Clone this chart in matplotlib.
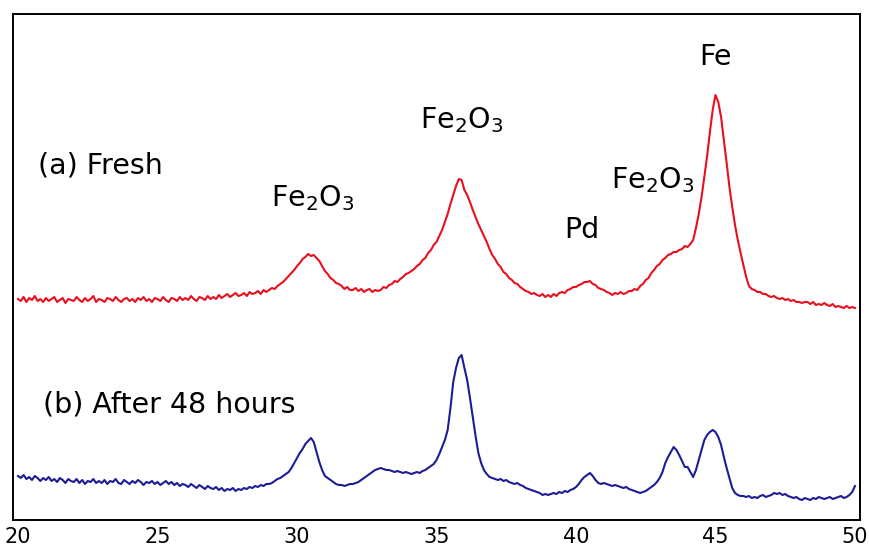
import numpy as np
import matplotlib
matplotlib.use("Agg")
import matplotlib.pyplot as plt

plt.rcParams['font.family'] = ['DejaVu Sans']
plt.rcParams['mathtext.fontset'] = 'dejavusans'

# 2-theta grid (degrees), 0.1 step from 20 to 50
two_theta = np.round(np.arange(200, 501) / 10.0, 1)

# (a) Fresh -- intensity (arb. units), one row per degree
fresh = [
    221, 219, 223, 218, 222, 220, 224, 219, 221, 218,
    222, 219, 221, 223, 218, 220, 222, 217, 221, 220,
    219, 223, 220, 218, 222, 219, 221, 224, 218, 221,
    220, 218, 222, 221, 219, 223, 220, 218, 221, 222,
    219, 221, 218, 222, 220, 223, 219, 221, 218, 222,
    221, 219, 223, 220, 218, 222, 221, 219, 223, 220,
    222, 220, 224, 221, 219, 223, 222, 220, 224, 221,
    223, 221, 225, 222, 224, 226, 223, 225, 227, 224,
    225, 227, 224, 228, 226, 227, 229, 226, 230, 228,
    230, 232, 231, 234, 236, 238, 241, 244, 247, 250,
    254, 257, 261, 263, 266, 264, 265, 262, 259, 254,
    249, 246, 242, 240, 237, 236, 234, 231, 233, 230,
    230, 232, 229, 231, 228, 230, 231, 228, 230, 229,
    230, 233, 232, 235, 236, 239, 238, 241, 243, 246,
    247, 249, 251, 254, 256, 260, 262, 267, 270, 275,
    278, 284, 290, 298, 306, 316, 325, 334, 341, 340,
    330, 325, 318, 310, 303, 296, 290, 284, 278, 271,
    265, 261, 256, 253, 248, 246, 242, 240, 237, 236,
    233, 231, 229, 228, 226, 227, 225, 224, 226, 223,
    225, 223, 226, 224, 227, 228, 227, 230, 231, 233,
    233, 235, 236, 238, 238, 239, 236, 235, 232, 231,
    230, 228, 227, 225, 227, 226, 228, 226, 227, 229,
    229, 231, 230, 234, 236, 240, 242, 247, 250, 254,
    256, 260, 262, 265, 266, 268, 268, 270, 271, 274,
    273, 276, 280, 292, 306, 323, 343, 364, 388, 410,
    425, 418, 403, 380, 357, 333, 313, 295, 280, 267,
    255, 243, 234, 231, 230, 228, 228, 226, 226, 224,
    223, 224, 222, 221, 222, 220, 221, 219, 220, 218,
    218, 217, 218, 218, 216, 218, 215, 216, 215, 217,
    215, 214, 216, 213, 214, 213, 212, 214, 212, 213,
    212,
]

# (b) After 48 hours -- intensity (arb. units)
aged = [
    44, 42, 45, 41, 43, 40, 44, 42, 39, 42,
    40, 43, 39, 41, 38, 42, 40, 37, 41, 39,
    38, 41, 37, 40, 36, 39, 38, 41, 37, 39,
    37, 40, 36, 39, 38, 41, 37, 36, 40, 38,
    36, 39, 37, 40, 38, 35, 38, 37, 39, 36,
    38, 35, 37, 39, 36, 38, 35, 37, 34, 36,
    35, 33, 36, 34, 32, 35, 33, 31, 34, 32,
    31, 33, 30, 32, 29, 31, 30, 32, 29, 31,
    30, 32, 31, 33, 32, 34, 33, 35, 34, 36,
    36, 37, 39, 41, 42, 44, 46, 48, 52, 57,
    62, 67, 71, 76, 79, 82, 78, 68, 58, 50,
    44, 42, 40, 38, 36, 35, 35, 34, 35, 36,
    36, 37, 38, 40, 42, 44, 46, 48, 50, 51,
    52, 51, 50, 50, 49, 48, 49, 48, 47, 48,
    47, 46, 47, 48, 47, 49, 50, 52, 54, 56,
    60, 66, 73, 80, 90, 112, 138, 152, 162, 165,
    152, 140, 122, 103, 84, 67, 57, 50, 46, 43,
    42, 41, 40, 41, 39, 40, 38, 37, 36, 37,
    35, 34, 32, 31, 30, 29, 28, 27, 25, 26,
    25, 26, 27, 26, 28, 27, 29, 28, 30, 31,
    33, 36, 40, 43, 45, 47, 44, 40, 37, 36,
    37, 36, 35, 34, 35, 34, 33, 32, 33, 31,
    30, 29, 28, 27, 28, 29, 31, 33, 35, 38,
    42, 48, 57, 63, 68, 73, 70, 65, 59, 53,
    53, 48, 43, 50, 60, 70, 80, 85, 88, 90,
    88, 83, 75, 63, 52, 42, 32, 27, 25, 24,
    24, 23, 24, 22, 23, 22, 24, 25, 23, 24,
    25, 27, 26, 27, 25, 26, 24, 23, 22, 23,
    21, 20, 22, 21, 20, 22, 21, 23, 22, 21,
    22, 23, 21, 22, 23, 24, 22, 23, 25, 28,
    34,
]

xticks = [20, 25, 30, 35, 40, 45, 50]

# peak labels: (text, 2-theta, intensity)
peak_labels = [
    ("Fe$_2$O$_3$", 30.57, 322),
    ("Fe$_2$O$_3$", 35.9, 400),
    ("Pd", 40.2, 290),
    ("Fe$_2$O$_3$", 42.76, 340),
    ("Fe", 45.0, 463),
]
series_labels = [
    ("(a) Fresh", 20.72, 355),
    ("(b) After 48 hours", 20.9, 115),
]

fig = plt.figure(figsize=(8.69, 5.48), dpi=100)
ax = fig.add_axes([13 / 869, 28 / 548, 847 / 869, 506 / 548])

ax.plot(two_theta, fresh, color='#e8101e', lw=1.5)
ax.plot(two_theta, aged, color='#1c1c96', lw=1.5)

ax.set_xlim(19.82, 50.18)
ax.set_ylim(0, 506)
ax.set_xticks(xticks)
ax.set_xticklabels([str(t) for t in xticks])
ax.set_yticks([])
ax.tick_params(axis='x', length=0, pad=5, labelsize=15)
for s in ax.spines.values():
    s.set_linewidth(1.4)
    s.set_color('black')

for txt, x, y in peak_labels:
    ax.text(x, y, txt, fontsize=20.5, ha='center', va='center')
for txt, x, y in series_labels:
    ax.text(x, y, txt, fontsize=20.5, ha='left', va='center')

fig.savefig("out.png", dpi=100)
